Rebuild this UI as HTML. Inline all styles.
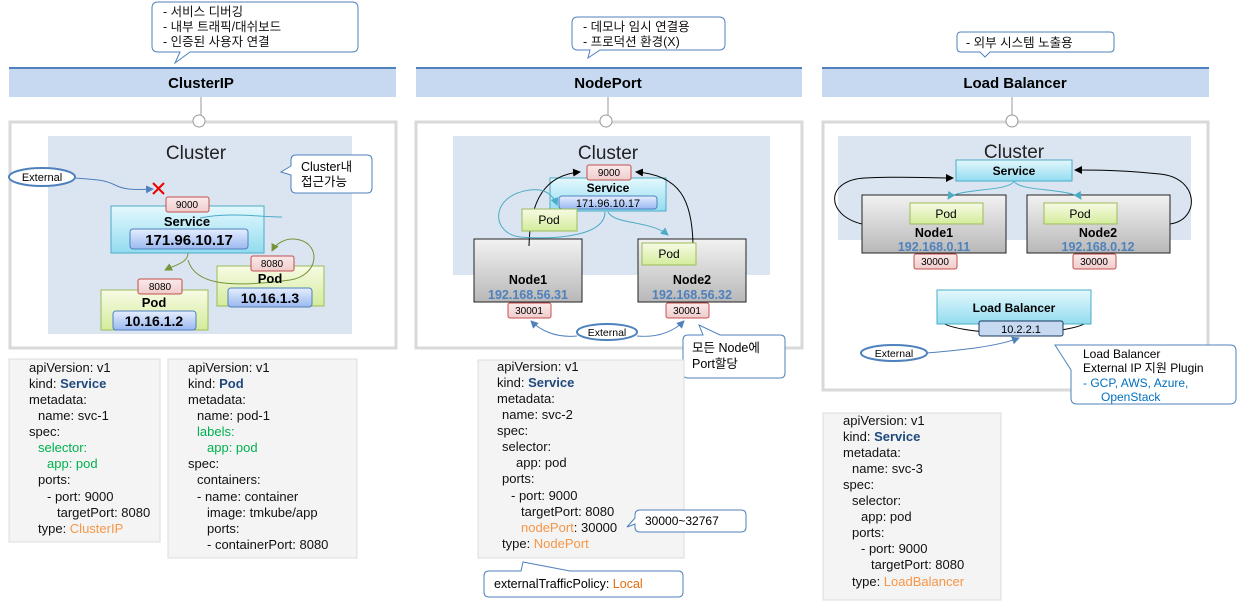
<!DOCTYPE html>
<html><head><meta charset="utf-8"><style>
html,body{margin:0;padding:0;background:#fff;}
svg{display:block;font-family:"Liberation Sans","Noto Sans CJK KR",sans-serif;}
.y{font-size:13px;fill:#111;}
</style></head><body>
<svg width="1249" height="606" viewBox="0 0 1249 606" xmlns="http://www.w3.org/2000/svg">
<defs>
<linearGradient id="cy" x1="0" y1="0" x2="0" y2="1"><stop offset="0" stop-color="#e4f8fd"/><stop offset="1" stop-color="#92dcf0"/></linearGradient>
<linearGradient id="bl" x1="0" y1="0" x2="0" y2="1"><stop offset="0" stop-color="#e6eeff"/><stop offset="1" stop-color="#9ab8f0"/></linearGradient>
<linearGradient id="gr" x1="0" y1="0" x2="0" y2="1"><stop offset="0" stop-color="#f7fbe4"/><stop offset="1" stop-color="#d4ec9c"/></linearGradient>
<linearGradient id="gy" x1="0" y1="0" x2="0" y2="1"><stop offset="0" stop-color="#f2f2f2"/><stop offset="1" stop-color="#b8b8b8"/></linearGradient>
<linearGradient id="rd" x1="0" y1="0" x2="0" y2="1"><stop offset="0" stop-color="#fbeaea"/><stop offset="1" stop-color="#f0cccc"/></linearGradient>
<marker id="ab" markerWidth="8" markerHeight="8" refX="7" refY="4" orient="auto" markerUnits="userSpaceOnUse"><path d="M0,0L8,4L0,8z" fill="#4f81bd"/></marker>
<marker id="ac" markerWidth="8" markerHeight="8" refX="7" refY="4" orient="auto" markerUnits="userSpaceOnUse"><path d="M0,0L8,4L0,8z" fill="#4bacc6"/></marker>
<marker id="ag" markerWidth="8" markerHeight="8" refX="7" refY="4" orient="auto" markerUnits="userSpaceOnUse"><path d="M0,0L8,4L0,8z" fill="#77933c"/></marker>
<marker id="ak" markerWidth="8" markerHeight="8" refX="7" refY="4" orient="auto" markerUnits="userSpaceOnUse"><path d="M0,0L8,4L0,8z" fill="#000"/></marker>
</defs>

<!-- top callouts -->
<g fill="#fff" stroke="#4f81bd" stroke-width="1">
<path d="M158,2 H352 Q358,2 358,8 V46 Q358,52 352,52 H190 L175,63 L180,52 H158 Q152,52 152,46 V8 Q152,2 158,2Z"/>
<path d="M578,17 H719 Q725,17 725,23 V44 Q725,50 719,50 H600 L588,58 L590,50 H578 Q572,50 572,44 V23 Q572,17 578,17Z"/>
<path d="M961,32 H1110 Q1114,32 1114,36 V48 Q1114,52 1110,52 H990 L985,57 L980,52 H961 Q957,52 957,48 V36 Q957,32 961,32Z"/>
</g>
<g font-size="12.5" fill="#111">
<text x="163" y="16">- 서비스 디버깅</text>
<text x="163" y="31">- 내부 트래픽/대쉬보드</text>
<text x="163" y="46">- 인증된 사용자 연결</text>
<text x="583" y="31">- 데모나 임시 연결용</text>
<text x="583" y="46">- 프로덕션 환경(X)</text>
<text x="966" y="47">- 외부 시스템 노출용</text>
</g>

<!-- header bars -->
<g>
<rect x="9" y="67" width="387" height="30" fill="#c6d9f1"/><rect x="9" y="67" width="387" height="2" fill="#4f81bd"/>
<rect x="416" y="67" width="386" height="30" fill="#c6d9f1"/><rect x="416" y="67" width="386" height="2" fill="#4f81bd"/>
<rect x="822" y="67" width="387" height="30" fill="#c6d9f1"/><rect x="822" y="67" width="387" height="2" fill="#4f81bd"/>
</g>
<g font-size="15" font-weight="bold" text-anchor="middle" fill="#000">
<text x="201" y="88">ClusterIP</text><text x="608" y="88">NodePort</text><text x="1015" y="88">Load Balancer</text>
</g>
<g stroke="#999"><line x1="201" y1="97" x2="201" y2="115"/><line x1="608" y1="97" x2="608" y2="115"/><line x1="1012" y1="97" x2="1012" y2="115"/></g>

<!-- outer boxes -->
<g fill="none" stroke="#d9d9d9" stroke-width="3">
<rect x="10" y="122" width="386" height="226"/>
<rect x="416" y="122" width="386" height="226"/>
<rect x="823" y="122" width="385" height="268"/>
</g>
<g fill="#fff" stroke="#999"><circle cx="199" cy="121" r="6"/><circle cx="606" cy="121" r="6"/><circle cx="1012" cy="121" r="6"/></g>

<!-- clusters -->
<rect x="48" y="136" width="304" height="198" fill="#dbe5f1"/>
<rect x="453" y="136" width="317" height="139" fill="#dbe5f1"/>
<rect x="838" y="136" width="353" height="104" fill="#dbe5f1"/>
<g font-size="19" text-anchor="middle" fill="#222">
<text x="196" y="159">Cluster</text><text x="608" y="159">Cluster</text><text x="1014" y="158">Cluster</text>
</g>

<!-- ===== ClusterIP ===== -->
<path d="M75,178 C100,180 105,180 115,185 S135,190 153,189" fill="none" stroke="#4f81bd" stroke-width="1" marker-end="url(#ab)"/>
<ellipse cx="42" cy="177" rx="33" ry="9" fill="#fff" stroke="#4f81bd" stroke-width="2"/>
<text x="42" y="181" font-size="11" text-anchor="middle">External</text>
<g stroke="#e00" stroke-width="2"><line x1="153" y1="183" x2="164" y2="194"/><line x1="164" y1="183" x2="153" y2="194"/></g>
<path d="M290,308 C265,300 255,290 280,278" fill="none"/>
<rect x="111" y="206" width="153" height="47" fill="url(#cy)" stroke="#4bacc6"/>
<rect x="166" y="197" width="43" height="15" rx="2" fill="url(#rd)" stroke="#c0504d"/>
<text x="187" y="208" font-size="10" text-anchor="middle">9000</text>
<text x="187" y="226" font-size="13" font-weight="bold" text-anchor="middle">Service</text>
<rect x="130" y="229" width="118" height="20" rx="3" fill="url(#bl)" stroke="#4f81bd"/>
<text x="189" y="245" font-size="15" font-weight="bold" text-anchor="middle">171.96.10.17</text>
<path d="M200,218 C230,212 260,217 282,217" fill="none" stroke="#4bacc6"/>
<rect x="217" y="266" width="107" height="40" fill="url(#gr)" stroke="#9bbb59"/>
<rect x="101" y="290" width="107" height="40" fill="url(#gr)" stroke="#9bbb59"/>
<path d="M188,253 C188,263 175,265 165,270" fill="none" stroke="#77933c" marker-end="url(#ag)"/>
<path d="M188,260 C195,285 230,288 290,280 C320,275 320,245 300,240 C285,236 275,245 272,251" fill="none" stroke="#77933c" marker-end="url(#ag)"/>
<rect x="251" y="256" width="43" height="15" rx="2" fill="url(#rd)" stroke="#c0504d"/>
<text x="272" y="267" font-size="10" text-anchor="middle">8080</text>
<text x="270" y="283" font-size="13" font-weight="bold" text-anchor="middle">Pod</text>
<rect x="228" y="288" width="84" height="19" rx="3" fill="url(#bl)" stroke="#4f81bd"/>
<text x="270" y="303" font-size="14" font-weight="bold" text-anchor="middle">10.16.1.3</text>
<rect x="138" y="279" width="44" height="15" rx="2" fill="url(#rd)" stroke="#c0504d"/>
<text x="160" y="290" font-size="10" text-anchor="middle">8080</text>
<text x="154" y="307" font-size="13" font-weight="bold" text-anchor="middle">Pod</text>
<rect x="113" y="311" width="83" height="19" rx="3" fill="url(#bl)" stroke="#4f81bd"/>
<text x="154" y="326" font-size="14" font-weight="bold" text-anchor="middle">10.16.1.2</text>
<path d="M296,155 H367 Q372,155 372,160 V188 Q372,193 367,193 H296 Q291,193 291,188 V175 L281,172 L291,166 V160 Q291,155 296,155Z" fill="#fff" stroke="#4f81bd"/>
<text x="301" y="171" font-size="12.5">Cluster내</text>
<text x="301" y="186" font-size="12.5">접근가능</text>

<!-- ===== NodePort ===== -->
<rect x="474" y="239" width="108" height="63" fill="url(#gy)" stroke="#222"/>
<rect x="638" y="239" width="108" height="63" fill="url(#gy)" stroke="#222"/>
<rect x="550" y="178" width="116" height="33" fill="url(#cy)" stroke="#4bacc6"/>
<rect x="587" y="165" width="44" height="15" rx="2" fill="url(#rd)" stroke="#c0504d"/>
<text x="609" y="176" font-size="10" text-anchor="middle">9000</text>
<text x="608" y="192" font-size="12" font-weight="bold" text-anchor="middle">Service</text>
<rect x="559" y="196" width="98" height="13" rx="3" fill="url(#bl)" stroke="#4f81bd"/>
<text x="608" y="207" font-size="11" text-anchor="middle">171.96.10.17</text>
<path d="M529,246 C530,200 545,175 580,172" fill="none" stroke="#000" marker-end="url(#ak)"/>
<path d="M693,244 C692,200 680,175 636,172" fill="none" stroke="#000" marker-end="url(#ak)"/>
<path d="M605,212 C605,235 560,240 520,237 C490,233 490,195 530,190 C545,188 553,195 557,205" fill="none" stroke="#4bacc6" marker-end="url(#ac)"/>
<path d="M608,212 C615,225 650,220 668,235" fill="none" stroke="#4bacc6" marker-end="url(#ac)"/>
<rect x="522" y="209" width="55" height="22" fill="url(#gr)" stroke="#9bbb59"/>
<text x="549" y="224" font-size="12" text-anchor="middle">Pod</text>
<rect x="642" y="243" width="54" height="22" fill="url(#gr)" stroke="#9bbb59"/>
<text x="669" y="258" font-size="12" text-anchor="middle">Pod</text>
<text x="528" y="284" font-size="12.5" font-weight="bold" text-anchor="middle">Node1</text>
<text x="528" y="299" font-size="12.5" font-weight="bold" fill="#4f81bd" text-anchor="middle">192.168.56.31</text>
<text x="692" y="284" font-size="12.5" font-weight="bold" text-anchor="middle">Node2</text>
<text x="692" y="299" font-size="12.5" font-weight="bold" fill="#4f81bd" text-anchor="middle">192.168.56.32</text>
<rect x="508" y="303" width="43" height="15" rx="2" fill="url(#rd)" stroke="#c0504d"/>
<text x="529" y="314" font-size="10" text-anchor="middle">30001</text>
<rect x="666" y="303" width="43" height="15" rx="2" fill="url(#rd)" stroke="#c0504d"/>
<text x="687" y="314" font-size="10" text-anchor="middle">30001</text>
<path d="M577,336 C555,338 540,330 531,321" fill="none" stroke="#4f81bd" marker-end="url(#ab)"/>
<path d="M637,336 C660,338 675,330 684,321" fill="none" stroke="#4f81bd" marker-end="url(#ab)"/>
<ellipse cx="607" cy="332" rx="30" ry="8" fill="#fff" stroke="#4f81bd" stroke-width="2"/>
<text x="607" y="336" font-size="10.5" text-anchor="middle">External</text>
<path d="M688,335 H703 L699,325 L720,335 H780 Q785,335 785,340 V373 Q785,378 780,378 H688 Q683,378 683,373 V340 Q683,335 688,335Z" fill="#fff" stroke="#4f81bd"/>
<text x="692" y="352" font-size="12.5">모든 Node에</text>
<text x="692" y="368" font-size="12.5">Port할당</text>

<!-- ===== LoadBalancer ===== -->
<path d="M862,224 C825,215 825,180 865,178 C900,176 930,178 953,178" fill="none" stroke="#000" marker-end="url(#ak)"/>
<path d="M1170,224 C1200,220 1200,178 1160,174 C1120,170 1095,170 1075,170" fill="none" stroke="#000" marker-end="url(#ak)"/>
<rect x="862" y="195" width="144" height="58" fill="url(#gy)" stroke="#222"/>
<rect x="1027" y="195" width="143" height="58" fill="url(#gy)" stroke="#222"/>
<rect x="956" y="160" width="116" height="21" fill="url(#cy)" stroke="#4bacc6"/>
<text x="1014" y="175" font-size="12" font-weight="bold" text-anchor="middle">Service</text>
<path d="M1014,181 C1010,192 955,188 948,199" fill="none" stroke="#4bacc6" marker-end="url(#ac)"/>
<path d="M1014,181 C1018,192 1074,188 1081,199" fill="none" stroke="#4bacc6" marker-end="url(#ac)"/>
<rect x="910" y="203" width="73" height="21" fill="url(#gr)" stroke="#9bbb59"/>
<text x="946" y="218" font-size="12" text-anchor="middle">Pod</text>
<rect x="1044" y="203" width="73" height="21" fill="url(#gr)" stroke="#9bbb59"/>
<text x="1080" y="218" font-size="12" text-anchor="middle">Pod</text>
<text x="934" y="237" font-size="12.5" font-weight="bold" text-anchor="middle">Node1</text>
<text x="934" y="251" font-size="12.5" font-weight="bold" fill="#4f81bd" text-anchor="middle">192.168.0.11</text>
<text x="1098" y="237" font-size="12.5" font-weight="bold" text-anchor="middle">Node2</text>
<text x="1098" y="251" font-size="12.5" font-weight="bold" fill="#4f81bd" text-anchor="middle">192.168.0.12</text>
<rect x="914" y="254" width="43" height="15" rx="2" fill="url(#rd)" stroke="#c0504d"/>
<text x="935" y="265" font-size="10" text-anchor="middle">30000</text>
<rect x="1073" y="254" width="43" height="15" rx="2" fill="url(#rd)" stroke="#c0504d"/>
<text x="1094" y="265" font-size="10" text-anchor="middle">30000</text>
<path d="M937,318 C945,338 1085,338 1091,318" fill="none" stroke="#000"/>
<rect x="937" y="290" width="154" height="34" fill="url(#cy)" stroke="#4bacc6"/>
<text x="1014" y="312" font-size="12" font-weight="bold" text-anchor="middle">Load  Balancer</text>
<rect x="979" y="321" width="84" height="15" rx="2" fill="#c6d9f1" stroke="#17375e"/>
<text x="1021" y="333" font-size="11" text-anchor="middle">10.2.2.1</text>
<path d="M927,353 C960,350 995,347 1019,338" fill="none" stroke="#4f81bd" marker-end="url(#ab)"/>
<ellipse cx="894" cy="353" rx="33" ry="8" fill="#fff" stroke="#4f81bd" stroke-width="2"/>
<text x="894" y="357" font-size="10.5" text-anchor="middle">External</text>
<path d="M1077,345 H1230 Q1236,345 1236,351 V398 Q1236,404 1230,404 H1077 Q1071,404 1071,398 V370 L1055,345 L1077,345Z" fill="#fff" stroke="#4f81bd"/>
<text x="1083" y="358" font-size="12">Load Balancer</text>
<text x="1083" y="372" font-size="12">External IP 지원 Plugin</text>
<text x="1083" y="387" font-size="12" fill="#0070c0">-    GCP, AWS, Azure,</text>
<text x="1101" y="401" font-size="12" fill="#0070c0">OpenStack</text>

<!-- yaml notes -->
<g fill="#f4f4f4" stroke="#ddd">
<rect x="9" y="359" width="151" height="183"/>
<rect x="168" y="359" width="189" height="199"/>
<rect x="478" y="360" width="206" height="198"/>
<rect x="823" y="413" width="178" height="187"/>
</g>
<g class="y">
<text x="29" y="372">apiVersion: v1</text>
<text x="29" y="388">kind: <tspan fill="#1f497d" font-weight="bold">Service</tspan></text>
<text x="29" y="404">metadata:</text>
<text x="38" y="420">name: svc-1</text>
<text x="29" y="436">spec:</text>
<text x="38" y="452" fill="#00b050">selector:</text>
<text x="47" y="468" fill="#00b050">app: pod</text>
<text x="38" y="484">ports:</text>
<text x="47" y="501">- port: 9000</text>
<text x="57" y="517">targetPort: 8080</text>
<text x="38" y="533">type: <tspan fill="#f79646">ClusterIP</tspan></text>

<text x="188" y="372">apiVersion: v1</text>
<text x="188" y="388">kind: <tspan fill="#1f497d" font-weight="bold">Pod</tspan></text>
<text x="188" y="404">metadata:</text>
<text x="197" y="420">name: pod-1</text>
<text x="197" y="436" fill="#00b050">labels:</text>
<text x="207" y="452" fill="#00b050">app: pod</text>
<text x="188" y="468">spec:</text>
<text x="197" y="484">containers:</text>
<text x="197" y="501">- name: container</text>
<text x="207" y="517">image: tmkube/app</text>
<text x="207" y="533">ports:</text>
<text x="207" y="549">- containerPort: 8080</text>

<text x="497" y="371">apiVersion: v1</text>
<text x="497" y="387">kind: <tspan fill="#1f497d" font-weight="bold">Service</tspan></text>
<text x="497" y="403">metadata:</text>
<text x="502" y="419">name: svc-2</text>
<text x="497" y="435">spec:</text>
<text x="502" y="451">selector:</text>
<text x="516" y="467">app: pod</text>
<text x="502" y="483">ports:</text>
<text x="511" y="500">-  port: 9000</text>
<text x="521" y="516">targetPort: 8080</text>
<text x="521" y="532"><tspan fill="#f79646">nodePort</tspan>: 30000</text>
<text x="502" y="548">type: <tspan fill="#f79646">NodePort</tspan></text>

<text x="843" y="425">apiVersion: v1</text>
<text x="843" y="441">kind: <tspan fill="#1f497d" font-weight="bold">Service</tspan></text>
<text x="843" y="457">metadata:</text>
<text x="852" y="473">name: svc-3</text>
<text x="843" y="489">spec:</text>
<text x="852" y="505">selector:</text>
<text x="861" y="521">app: pod</text>
<text x="852" y="537">ports:</text>
<text x="861" y="553">- port: 9000</text>
<text x="871" y="569">targetPort: 8080</text>
<text x="852" y="586">type: <tspan fill="#f79646">LoadBalancer</tspan></text>
</g>

<!-- nodeport callouts -->
<path d="M640,510 H741 Q746,510 746,515 V527 Q746,532 741,532 H640 Q635,532 635,527 V524 L627,527 L635,518 V515 Q635,510 640,510Z" fill="#fff" stroke="#4f81bd"/>
<text x="645" y="525" font-size="12">30000~32767</text>
<path d="M489,571 H521 L523,562 L570,571 H678 Q683,571 683,576 V592 Q683,597 678,597 H489 Q484,597 484,592 V576 Q484,571 489,571Z" fill="#fff" stroke="#4f81bd"/>
<text x="494" y="588" font-size="12.5">externalTrafficPolicy: <tspan fill="#e36c09">Local</tspan></text>
</svg>
</body></html>
